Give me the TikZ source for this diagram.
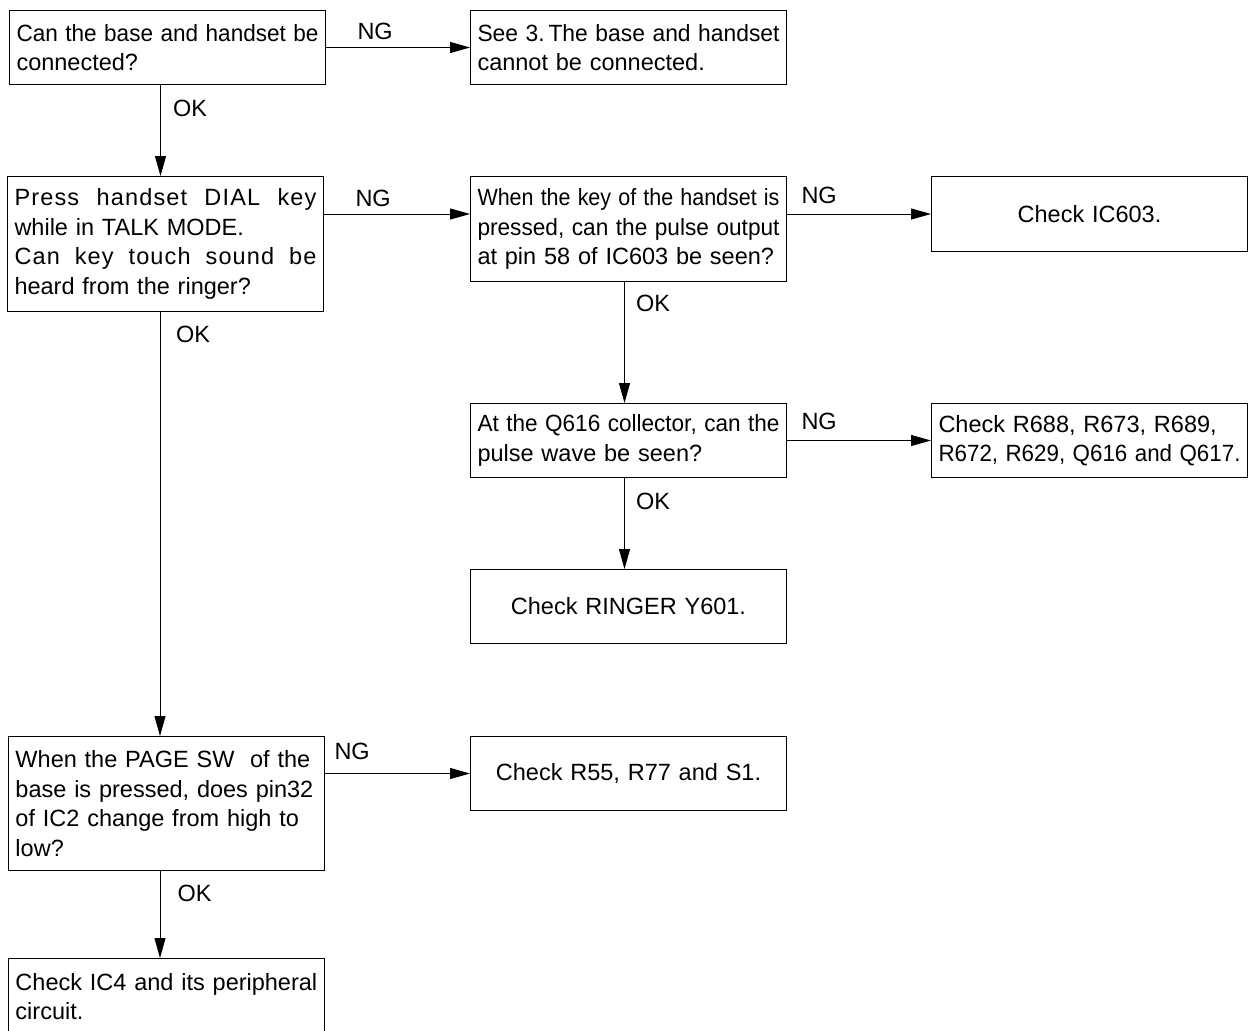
\documentclass[tikz,border=0pt]{standalone}
\usepackage{fontspec}
\setmainfont{Liberation Sans}
\usepackage{graphicx}
\usetikzlibrary{arrows.meta}

\newcommand{\fitline}[1]{\sbox0{#1}\ifdim\wd0>302pt\resizebox{302pt}{\height}{#1}\else#1\fi}
\newcommand{\spreadline}[1]{\makebox[302pt][l]{\addfontfeature{LetterSpace=5}#1}}

\begin{document}
\begin{tikzpicture}[x=1pt, y=-1pt,
		every node/.style = {font=\fontsize{23.5}{29.5}\selectfont},
		box/.style = {draw, line width=1pt, anchor=north west, inner xsep=7pt, inner ysep=0pt,
			minimum width=316pt, text width=302pt, align=left},
		cbox/.style = {box, align=center},
		arr/.style = {line width=1pt, -{Triangle[length=20pt,width=11pt]}},
		ng/.style = {anchor=south west, inner sep=0pt, pos=0},
		ok/.style = {anchor=north west, inner sep=0pt, pos=0}
		]
		\useasboundingbox (0,0) rectangle (1249,1030);

		% boxes
		\node[box, minimum height=74pt] (conn) at (9,10)
			{\fitline{Can the base and handset be}\\connected?};
		\node[box, minimum height=74pt] (seeconn) at (470,10)
			{\fitline{See 3.\,The base and handset}\\cannot be connected.};
		\node[box, minimum height=135pt] (dial) at (7,176)
			{\spreadline{Press\hfill handset\hfill DIAL\hfill key}\\while in TALK MODE.\\
			 \spreadline{Can\hfill key\hfill touch\hfill sound\hfill be}\\heard from the ringer?};
		\node[box, minimum height=105pt] (pulse) at (470,176)
			{\fitline{When the key of the handset is}\\\fitline{pressed, can the pulse output}\\at pin 58 of IC603 be seen?};
		\node[cbox, minimum height=75pt] (ic603) at (931,176) {Check IC603.};
		\node[box, minimum height=74pt] (q616) at (470,403)
			{\fitline{At the Q616 collector, can the}\\pulse wave be seen?};
		\node[box, minimum height=74pt] (parts) at (931,403)
			{Check R688, R673, R689,\\\fitline{R672, R629, Q616 and Q617.}};
		\node[cbox, minimum height=74pt] (ringer) at (470,569) {Check RINGER Y601.};
		\node[box, minimum height=134pt] (pagesw) at (8,736)
			{When the PAGE SW~ of the\\base is pressed, does pin32\\of IC2 change from high to\\low?};
		\node[cbox, minimum height=74pt] (r55) at (470,736) {Check R55, R77 and S1.};
		\node[box, minimum height=76pt] (ic4) at (8,958)
			{Check IC4 and its peripheral\\circuit.};

		% connectors
		\draw[arr] (conn) -- (seeconn) node[ng, xshift=31pt, yshift=7pt] {NG};
		\coordinate (k1) at ([xshift=-7pt]conn.south);
		\draw[arr] (k1) -- (k1 |- dial.north) node[ok, xshift=12pt, yshift=-14.4pt] {OK};
		\draw[arr] (dial.east |- ic603) -- (pulse.west |- ic603) node[ng, xshift=31pt, yshift=7pt] {NG};
		\draw[arr] (pulse.east |- ic603) -- (ic603) node[ng, xshift=14pt, yshift=10pt] {NG};
		\coordinate (k3) at ([xshift=-4pt]pulse.south);
		\draw[arr] (k3) -- (k3 |- q616.north) node[ok, xshift=11pt, yshift=-12.4pt] {OK};
		\draw[arr] (q616) -- (parts) node[ng, xshift=14pt, yshift=10pt] {NG};
		\coordinate (k4) at ([xshift=-4pt]q616.south);
		\draw[arr] (k4) -- (k4 |- ringer.north) node[ok, xshift=11pt, yshift=-14.4pt] {OK};
		\coordinate (k2) at ([xshift=-5.5pt]dial.south);
		\draw[arr] (k2) -- (k2 |- pagesw.north) node[ok, xshift=15.5pt, yshift=-13.4pt] {OK};
		\draw[arr] (pagesw.east |- r55) -- (r55) node[ng, xshift=9pt, yshift=13.5pt] {NG};
		\coordinate (k5) at ([xshift=-6.5pt]pagesw.south);
		\draw[arr] (k5) -- (k5 |- ic4.north) node[ok, xshift=17pt, yshift=-14pt] {OK};
	\end{tikzpicture}
\end{document}
